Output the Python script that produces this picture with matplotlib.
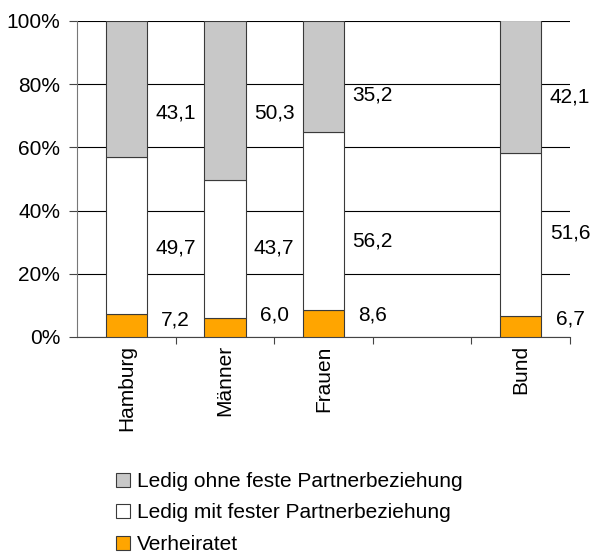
import numpy as np
import matplotlib
matplotlib.use("Agg")
import matplotlib.pyplot as plt

plt.rcParams['font.family'] = ['Liberation Sans', 'DejaVu Sans']

# Daten (Anteile in %)
kategorien = ['Hamburg', 'Männer', 'Frauen', '', 'Bund']
positionen = [0, 1, 2, 4]          # Platz 3 bleibt leer
verheiratet = [7.2, 6.0, 8.6, 6.7]
ledig_mit = [49.7, 43.7, 56.2, 51.6]
ledig_ohne = [43.1, 50.3, 35.2, 42.1]

# Lage der Beschriftungen (y in %) je Balken: verheiratet, mit, ohne
label_y = [[5.4, 28.3, 70.9],
           [7.1, 28.3, 70.9],
           [7.1, 30.4, 76.6],
           [5.7, 33.0, 75.8]]

fig = plt.figure(figsize=(5.98, 5.55), dpi=100)
ax = fig.add_axes([77/598, 1-337/555, (570-77)/598, (337-21)/555])

fs = 15
breite = 0.42
kante = dict(edgecolor='#3a3a3a', linewidth=0.8, zorder=3)

v = np.array(verheiratet)
m = np.array(ledig_mit)
o = np.array(ledig_ohne)
b1 = ax.bar(positionen, v, breite, color='#FFA500', label='Verheiratet', **kante)
b2 = ax.bar(positionen, m, breite, bottom=v, color='white',
            label='Ledig mit fester Partnerbeziehung', **kante)
b3 = ax.bar(positionen, o, breite, bottom=v + m, color='#C8C8C8',
            label='Ledig ohne feste Partnerbeziehung', **kante)

for i, p in enumerate(positionen):
    werte = [verheiratet[i], ledig_mit[i], ledig_ohne[i]]
    for w, y in zip(werte, label_y[i]):
        ax.text(p + 0.5, y, f"{w:.1f}".replace('.', ','), ha='center',
                va='center', fontsize=fs, zorder=4)

ax.set_xlim(-0.5, 4.5)
ax.set_ylim(0, 100)
ax.set_yticks(range(0, 101, 20))
ax.set_yticklabels([f"{t}%" for t in range(0, 101, 20)], fontsize=fs)
ax.yaxis.grid(True, color='black', linewidth=0.8)
ax.set_axisbelow(True)

ax.set_xticks([0.5, 1.5, 2.5, 3.5, 4.5])
ax.set_xticklabels([])
ax.set_xticks(range(5), minor=True)
ax.set_xticklabels(kategorien, minor=True, rotation=90, fontsize=fs, va='top')
ax.tick_params(axis='x', which='minor', length=0, pad=6)
ax.tick_params(axis='x', which='major', length=5, color='#444444')
ax.tick_params(axis='y', length=6, color='#444444', pad=6)

for s in ['top', 'right']:
    ax.spines[s].set_visible(False)
ax.spines['left'].set_color('#777777')
ax.spines['bottom'].set_color('#444444')

fig.legend(handles=[b3, b2, b1], loc='upper left',
           bbox_to_anchor=(116/598, 1-472/555), frameon=False, fontsize=fs,
           handlelength=0.65, handleheight=0.65, handletextpad=0.35,
           labelspacing=0.6, borderpad=0, borderaxespad=0)

fig.savefig('out.png', dpi=100)
